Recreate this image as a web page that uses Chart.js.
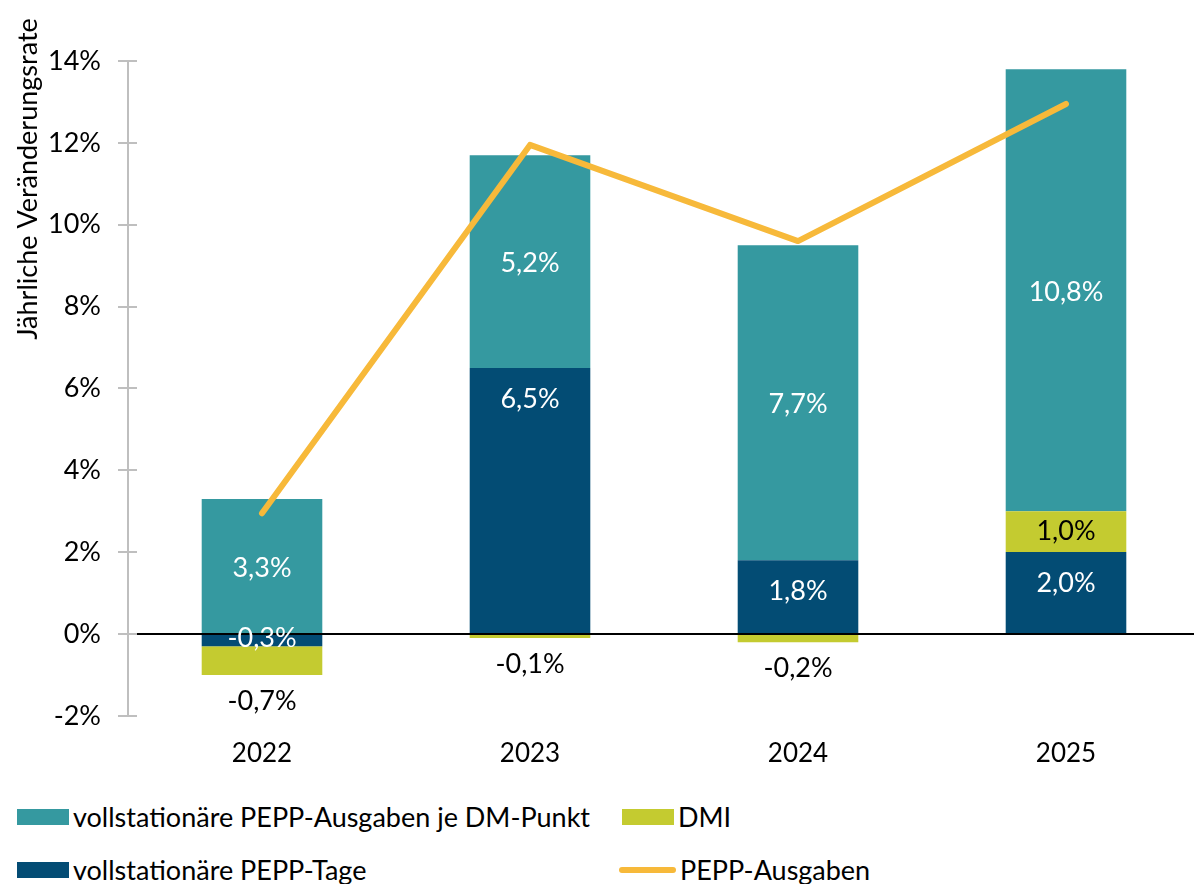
<!DOCTYPE html>
<html lang="de">
<head>
<meta charset="utf-8">
<script src="https://cdn.jsdelivr.net/npm/chart.js@4"></script>
<style>
  html, body { margin: 0; padding: 0; background: #fff; }
  body { width: 1194px; height: 884px; position: relative; overflow: hidden; font-family: Lato, sans-serif; }
  #wrap { position: absolute; left: 0; top: 0; width: 1200px; height: 790px; }
  #legend { position: absolute; left: 0; top: 790px; width: 1194px; height: 94px; }
  .item { position: absolute; display: flex; align-items: center; font-size: 27px; line-height: 32px; color: #000; white-space: nowrap; }
  .box { width: 52px; height: 16px; margin-right: 4px; }
  .ln { width: 57px; height: 6px; border-radius: 3px; margin-right: 4px; }
</style>
</head>
<body>
<div id="wrap"><canvas id="chart" width="1200" height="790"></canvas></div>
<div id="legend"></div>
<script>
// Daten
const jahre = ["2022", "2023", "2024", "2025"];
const pcTage = [-0.3, 6.5, 1.8, 2.0];          // vollstationäre PEPP-Tage
const dmi = [-0.7, -0.1, -0.2, 1.0];            // DMI
const ausgabenJePunkt = [3.3, 5.2, 7.7, 10.8];  // PEPP-Ausgaben je DM-Punkt
const peppAusgaben = [2.95, 11.95, 9.6, 12.95]; // Linie
const yTicks = [-2, 0, 2, 4, 6, 8, 10, 12, 14];

const colTeal = "#3599a0";
const colNavy = "#034c74";
const colDmi = "#c4cb30";
const colOrange = "#f7b93a";
const axisGray = "#bfbfbf";
const fontFam = "Lato, 'Open Sans', sans-serif";

function fmt(v) {
  return v.toFixed(1).replace(".", ",") + "%";
}

// Werte in den Balken beschriften
const labelPlugin = {
  id: "barLabels",
  afterDatasetsDraw(chart) {
    const ctx = chart.ctx;
    ctx.save();
    ctx.font = "27px " + fontFam;
    ctx.textAlign = "center";
    ctx.textBaseline = "middle";
    chart.data.datasets.forEach((ds, di) => {
      if (ds.type === "line") return;
      const meta = chart.getDatasetMeta(di);
      meta.data.forEach((bar, i) => {
        const v = ds.data[i];
        let y;
        let color = "#fff";
        if (ds.key === "tage") {
          y = v > 0 ? bar.y + 31 : (bar.y + bar.base) / 2 - 2;
        } else if (ds.key === "dmi") {
          color = "#000";
          y = v > 0 ? (bar.y + bar.base) / 2 : bar.y + 26;
        } else {
          y = (bar.y + bar.base) / 2 + 2;
        }
        ctx.fillStyle = color;
        ctx.fillText(fmt(v), bar.x, y);
      });
    });
    ctx.restore();
  },
};

// Achse mit durchgehenden Teilstrichen und Achsentitel
const axisPlugin = {
  id: "axisDeco",
  afterDraw(chart) {
    const ctx = chart.ctx;
    const ys = chart.scales.y;
    const x0 = chart.chartArea.left;
    ctx.save();
    ctx.strokeStyle = axisGray;
    ctx.lineWidth = 2;
    ys.ticks.forEach((t) => {
      const py = Math.round(ys.getPixelForValue(t.value));
      ctx.beginPath();
      ctx.moveTo(x0 - 10, py);
      ctx.lineTo(x0 + 9, py);
      ctx.stroke();
    });
    ctx.translate(28, 179);
    ctx.rotate(-Math.PI / 2);
    ctx.font = "27px " + fontFam;
    ctx.fillStyle = "#000";
    ctx.textAlign = "center";
    ctx.textBaseline = "middle";
    ctx.fillText("Jährliche Veränderungsrate", 0, 0);
    ctx.restore();
  },
};

function buildLegend(chart) {
  const el = document.getElementById("legend");
  el.innerHTML = "";
  const pos = [
    { key: "punkt", left: 17, top: 11 },
    { key: "dmi", left: 622, top: 11 },
    { key: "tage", left: 17, top: 64 },
    { key: "line", left: 619, top: 64 },
  ];
  pos.forEach((p) => {
    const ds = chart.data.datasets.find((d) => d.key === p.key);
    const item = document.createElement("div");
    item.className = "item";
    item.style.left = p.left + "px";
    item.style.top = p.top + "px";
    const sw = document.createElement("span");
    if (ds.type === "line") {
      sw.className = "ln";
      sw.style.background = ds.borderColor;
    } else {
      sw.className = "box";
      sw.style.background = ds.backgroundColor;
    }
    item.appendChild(sw);
    const tx = document.createElement("span");
    tx.textContent = ds.label;
    item.appendChild(tx);
    el.appendChild(item);
  });
}

const ctx = document.getElementById("chart").getContext("2d");
const chart = new Chart(ctx, {
  data: {
    labels: jahre,
    datasets: [
      {
        type: "line",
        key: "line",
        label: "PEPP-Ausgaben",
        data: peppAusgaben,
        borderColor: colOrange,
        backgroundColor: colOrange,
        borderWidth: 6,
        borderCapStyle: "round",
        borderJoinStyle: "round",
        pointRadius: 0,
        tension: 0,
        stack: "linie",
        order: 0,
      },
      {
        type: "bar",
        key: "tage",
        label: "vollstationäre PEPP-Tage",
        data: pcTage,
        backgroundColor: colNavy,
        stack: "s",
        order: 1,
      },
      {
        type: "bar",
        key: "dmi",
        label: "DMI",
        data: dmi,
        backgroundColor: colDmi,
        stack: "s",
        order: 1,
      },
      {
        type: "bar",
        key: "punkt",
        label: "vollstationäre PEPP-Ausgaben je DM-Punkt",
        data: ausgabenJePunkt,
        backgroundColor: colTeal,
        stack: "s",
        order: 1,
      },
    ],
  },
  options: {
    responsive: false,
    animation: false,
    layout: { padding: { top: 61, right: 0, bottom: 7, left: 0 } },
    datasets: {
      bar: { barPercentage: 0.45, categoryPercentage: 1 },
    },
    plugins: {
      legend: { display: false },
      tooltip: { enabled: false },
    },
    scales: {
      x: {
        stacked: true,
        grid: { display: false },
        border: { display: false },
        ticks: { color: "#000", font: { family: fontFam, size: 26 }, padding: 14 },
      },
      y: {
        stacked: true,
        min: -2,
        max: 14,
        afterFit(scale) { scale.width = 128; },
        afterBuildTicks(scale) { scale.ticks = yTicks.map((v) => ({ value: v })); },
        border: { display: true, color: axisGray, width: 2 },
        grid: {
          drawTicks: false,
          color: (c) => (c.tick && c.tick.value === 0 ? "#000" : "rgba(0,0,0,0)"),
          lineWidth: 2,
        },
        ticks: {
          color: "#000",
          font: { family: fontFam, size: 27 },
          padding: 27,
          callback: (v) => v + "%",
        },
      },
    },
  },
  plugins: [labelPlugin, axisPlugin],
});
buildLegend(chart);
</script>
</body>
</html>
